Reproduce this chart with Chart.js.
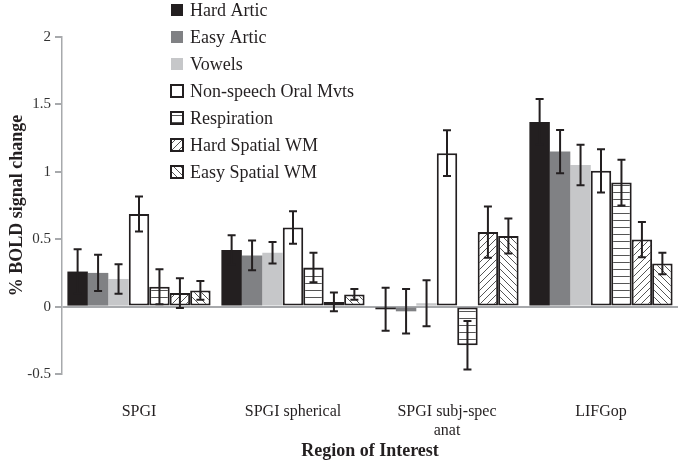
<!DOCTYPE html>
<html>
<head>
<meta charset="utf-8">
<script src="https://cdn.jsdelivr.net/npm/chart.js@4"></script>
<style>
  html, body { margin: 0; padding: 0; background: #fff; }
  #wrap { width: 679px; height: 463px; }
</style>
</head>
<body>
<div id="wrap"><canvas id="chart" width="679" height="463"></canvas></div>
<script>
// Data
const regions = ["SPGI", "SPGI spherical", ["SPGI subj-spec", "anat"], "LIFGop"];
const seriesNames = ["Hard Artic", "Easy Artic", "Vowels", "Non-speech Oral Mvts", "Respiration", "Hard Spatial WM", "Easy Spatial WM"];
const hardArtic = [0.26, 0.42, -0.02, 1.37];
const easyArtic = [0.25, 0.38, -0.035, 1.15];
const vowels = [0.205, 0.40, 0.025, 1.05];
const nonSpeech = [0.687, 0.587, 1.138, 1.007];
const respiration = [0.148, 0.29, -0.287, 0.92];
const hardSpatial = [0.10, 0.035, 0.553, 0.497];
const easySpatial = [0.12, 0.09, 0.523, 0.32];
const hardArticErr = [0.165, 0.11, 0.16, 0.17];
const easyArticErr = [0.135, 0.11, 0.165, 0.16];
const vowelsErr = [0.11, 0.08, 0.17, 0.15];
const nonSpeechErr = [0.13, 0.12, 0.17, 0.16];
const respirationErr = [0.13, 0.11, 0.18, 0.17];
const hardSpatialErr = [0.11, 0.07, 0.19, 0.13];
const easySpatialErr = [0.07, 0.04, 0.13, 0.08];
const yTicks = [-0.5, 0, 0.5, 1, 1.5, 2];

const INK = "#231f20";
const AXIS = "#a7a9ac";
const SERIF = "'Liberation Serif', 'Times New Roman', serif";

// hatch fill for the patterned series
function hatch(kind) {
  const s = 7;
  const c = document.createElement("canvas");
  c.width = c.height = s;
  const g = c.getContext("2d");
  g.fillStyle = "#fff";
  g.fillRect(0, 0, s, s);
  g.strokeStyle = "#555";
  g.lineWidth = 1;
  g.beginPath();
  if (kind === "h") {
    g.moveTo(0, 3.5); g.lineTo(s, 3.5);
  } else if (kind === "/") {
    g.moveTo(0, s); g.lineTo(s, 0);
    g.moveTo(-1, 1); g.lineTo(1, -1);
    g.moveTo(s - 1, s + 1); g.lineTo(s + 1, s - 1);
  } else {
    g.moveTo(0, 0); g.lineTo(s, s);
    g.moveTo(-1, s - 1); g.lineTo(1, s + 1);
    g.moveTo(s - 1, -1); g.lineTo(s + 1, 1);
  }
  g.stroke();
  return g.createPattern(c, "repeat");
}

const values = [hardArtic, easyArtic, vowels, nonSpeech, respiration, hardSpatial, easySpatial];
const errors = [hardArticErr, easyArticErr, vowelsErr, nonSpeechErr, respirationErr, hardSpatialErr, easySpatialErr];
const fills = ["#231f20", "#808184", "#c6c7c9", "#ffffff", hatch("h"), hatch("/"), hatch("\\")];
const borders = [0, 0, 0, 2, 2, 2, 2];

const datasets = seriesNames.map((name, i) => ({
  label: name,
  data: values[i],
  errors: errors[i],
  backgroundColor: fills[i],
  borderColor: INK,
  borderWidth: borders[i],
  borderSkipped: false,
  categoryPercentage: 0.93,
  barPercentage: 1.0
}));

// error bars drawn through the y scale
const errorBars = {
  id: "errorBars",
  afterDatasetsDraw(chart) {
    const ctx = chart.ctx;
    const y = chart.scales.y;
    ctx.save();
    ctx.strokeStyle = INK;
    ctx.lineWidth = 2;
    chart.data.datasets.forEach((ds, di) => {
      const meta = chart.getDatasetMeta(di);
      meta.data.forEach((bar, j) => {
        const v = ds.data[j], e = ds.errors[j];
        const top = y.getPixelForValue(v + e);
        const bot = y.getPixelForValue(v - e);
        ctx.beginPath();
        ctx.moveTo(bar.x, top); ctx.lineTo(bar.x, bot);
        ctx.moveTo(bar.x - 4, top); ctx.lineTo(bar.x + 4, top);
        ctx.moveTo(bar.x - 4, bot); ctx.lineTo(bar.x + 4, bot);
        ctx.stroke();
      });
    });
    ctx.restore();
  }
};

// vertical legend in the upper area
const sideLegend = {
  id: "sideLegend",
  afterDraw(chart) {
    const ctx = chart.ctx;
    ctx.save();
    ctx.font = "18px " + SERIF;
    ctx.textBaseline = "middle";
    chart.data.datasets.forEach((ds, i) => {
      const cy = 10 + i * 27;
      const x = 171;
      ctx.fillStyle = ds.backgroundColor;
      ctx.fillRect(x, cy - 6, 12, 12);
      if (ds.borderWidth) {
        ctx.strokeStyle = INK;
        ctx.lineWidth = 2;
        ctx.strokeRect(x, cy - 6, 12, 12);
      }
      ctx.fillStyle = INK;
      ctx.fillText(ds.label, 190, cy + 1);
    });
    ctx.restore();
  }
};

new Chart(document.getElementById("chart"), {
  type: "bar",
  data: { labels: regions, datasets: datasets },
  plugins: [errorBars, sideLegend],
  options: {
    responsive: false,
    animation: false,
    layout: { padding: { top: 37, right: 1, left: 0, bottom: 0 } },
    plugins: { legend: { display: false }, tooltip: { enabled: false } },
    scales: {
      x: {
        grid: { display: false },
        border: { display: false },
        ticks: { color: INK, font: { family: SERIF, size: 16 }, padding: 20, maxRotation: 0 },
        title: { display: true, text: "Region of Interest", color: INK, font: { family: SERIF, size: 18, weight: "bold" }, padding: { top: 0, bottom: 1 } },
        afterFit(scale) { scale.height = 89; }
      },
      y: {
        min: -0.5,
        max: 2,
        afterBuildTicks(scale) { scale.ticks = yTicks.map(v => ({ value: v })); },
        grid: {
          color: c => (c.tick && c.tick.value === 0 ? AXIS : "transparent"),
          lineWidth: 2,
          tickColor: AXIS,
          tickLength: 7
        },
        border: { color: AXIS, width: 1.5 },
        ticks: { color: "#333", font: { family: SERIF, size: 15 }, padding: 4, callback: v => String(v) },
        title: { display: true, text: "% BOLD signal change", color: INK, font: { family: SERIF, size: 18, weight: "bold" }, padding: { top: 7, bottom: 0 } },
        afterFit(scale) { scale.width = 62; }
      }
    }
  }
});
</script>
</body>
</html>
